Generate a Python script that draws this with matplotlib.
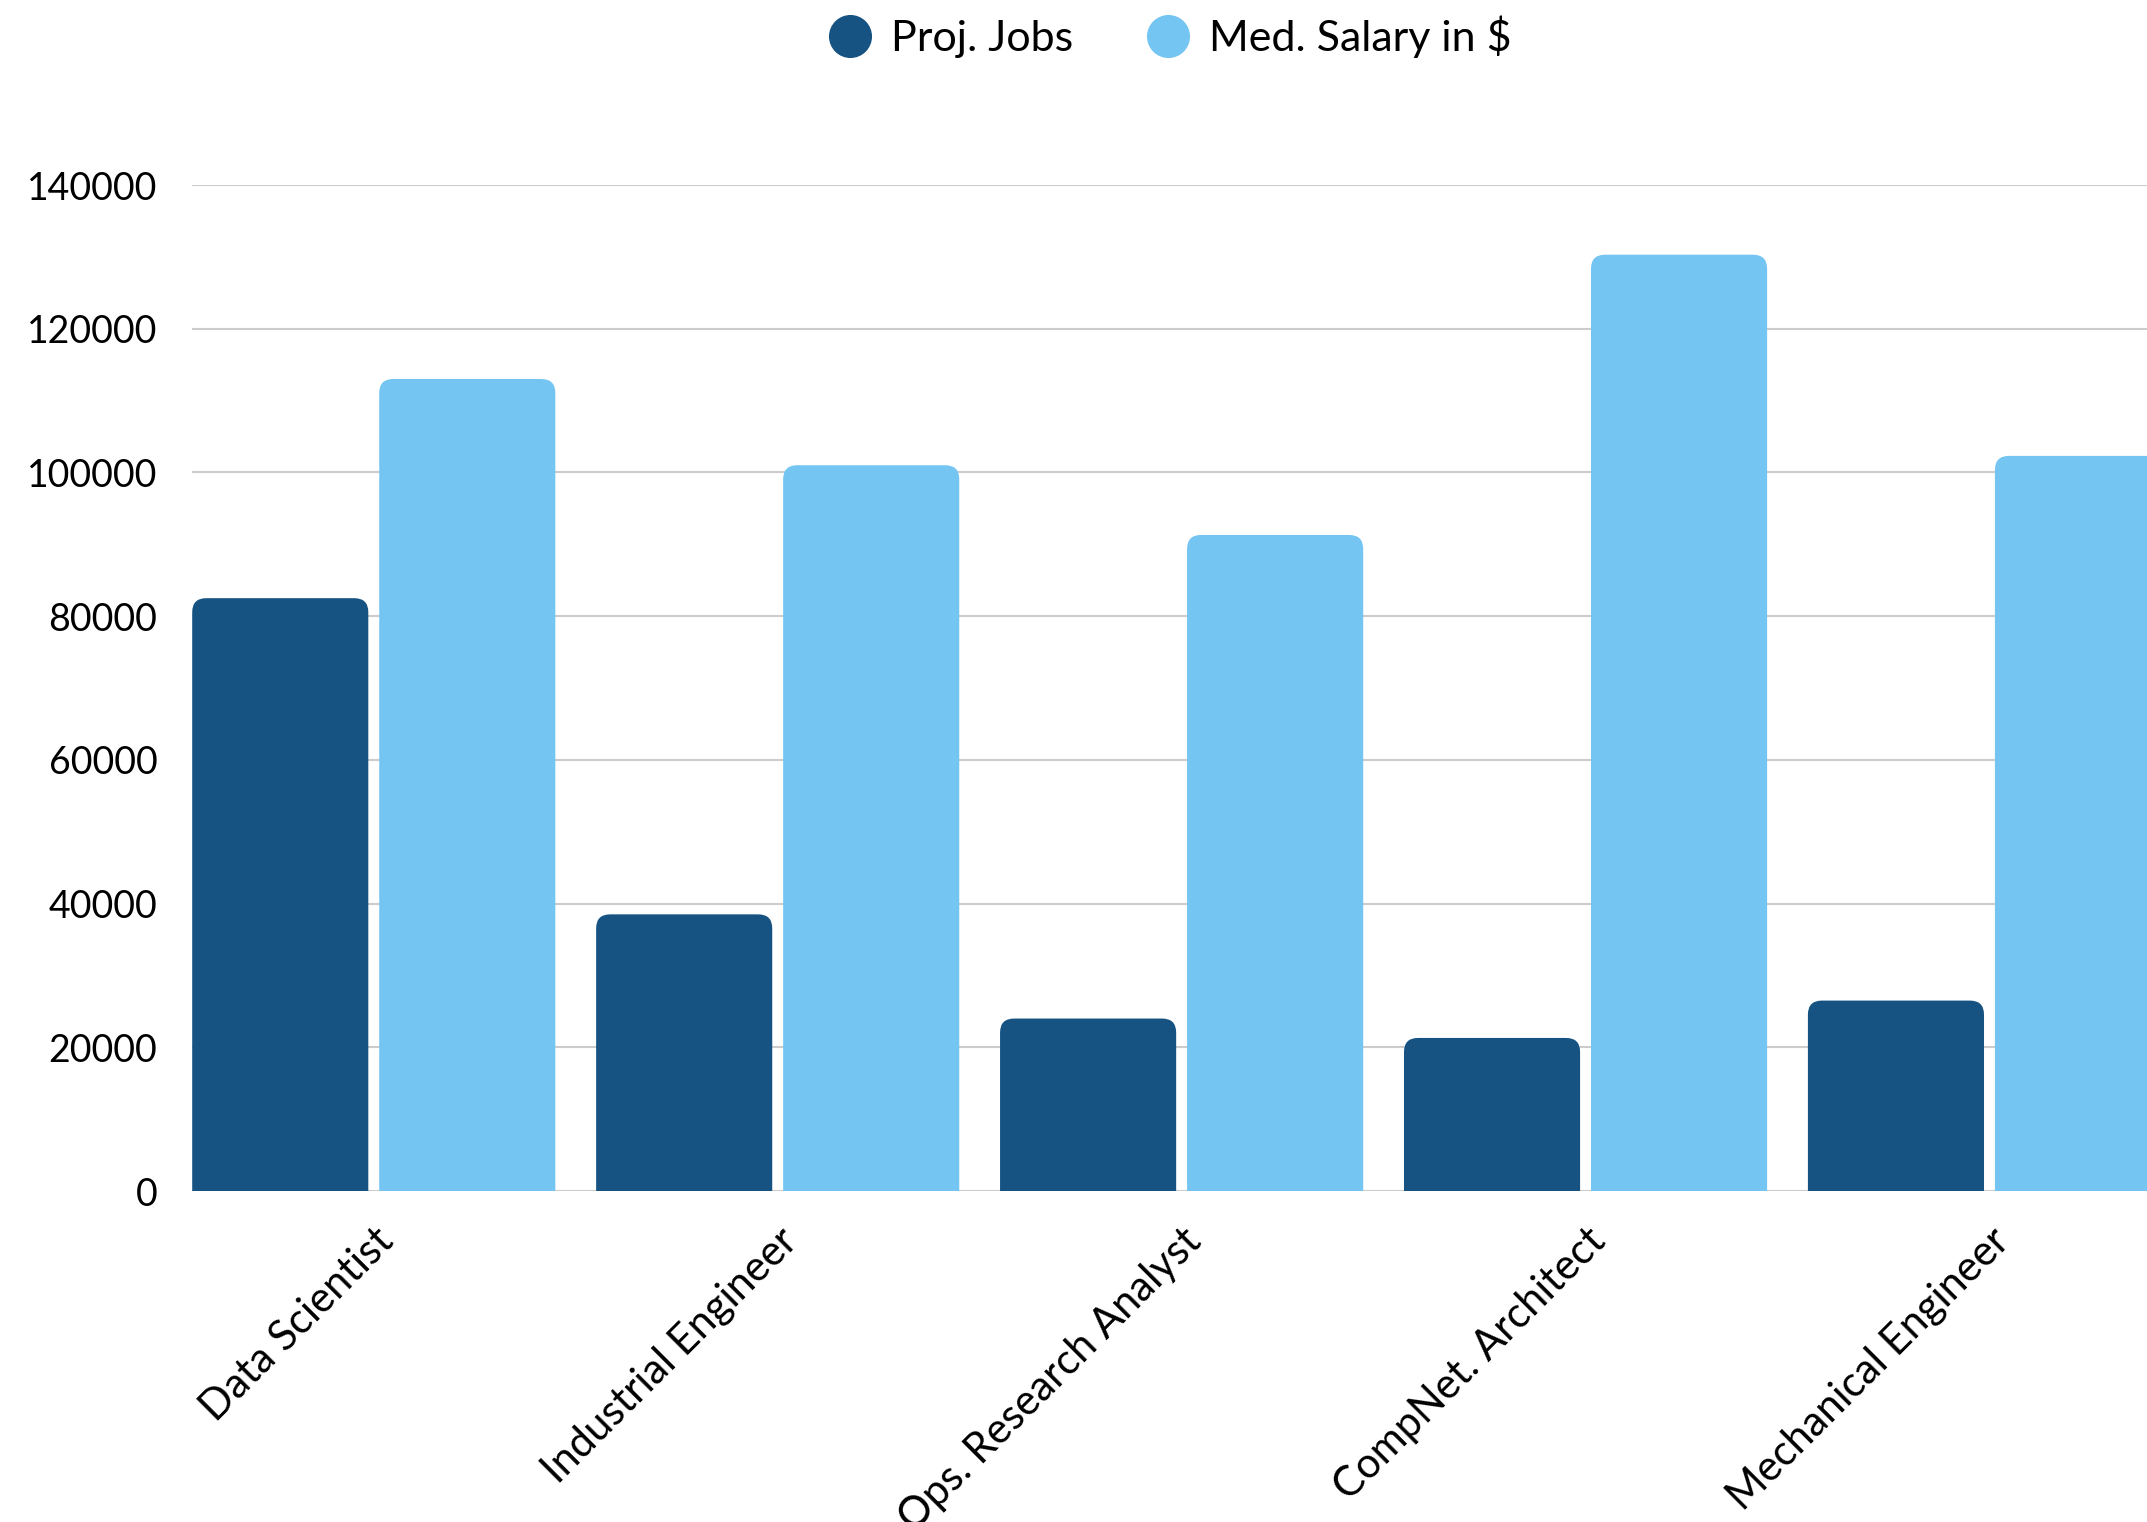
import matplotlib
matplotlib.use("Agg")
from matplotlib import pyplot as plt
from matplotlib.patches import FancyBboxPatch
from matplotlib.lines import Line2D
import numpy as np

categories = ["Data Scientist", "Industrial Engineer", "Ops. Research Analyst",
              "CompNet. Architect", "Mechanical Engineer"]
proj_jobs = [82500, 38500, 24000, 21300, 26500]
med_salary = [113000, 101000, 91300, 130300, 102300]
series_names = ["Proj. Jobs", "Med. Salary in $"]
yticks = [0, 20000, 40000, 60000, 80000, 100000, 120000, 140000]

dark = "#165382"
light = "#74C5F1"

plt.rcParams['font.family'] = ['Lato', 'DejaVu Sans']

W, H = 2147, 1522
fig = plt.figure(figsize=(W / 100, H / 100), dpi=100)
left, bottom, top = 192, 1191, 185
ax = fig.add_axes([left / W, 1 - bottom / H, 1 - left / W, (bottom - top) / H])

x = np.arange(len(categories))
width = 0.436
off = width / 2 + 0.0135
b1 = ax.bar(x - off, proj_jobs, width, color=dark, zorder=3)
b2 = ax.bar(x + off, med_salary, width, color=light, zorder=3)

ax.set_xlim(-0.45, 4.39)
ax.set_ylim(0, 140000)

# swap plain bars for ones with rounded top corners
px_per_x = (W - left) / (4.39 + 0.45)
px_per_y = (bottom - top) / 140000
aspect = px_per_x / px_per_y
r = 14 / px_per_x
for bars in (b1, b2):
    for rect in bars:
        rect.set_visible(False)
        extra = 40 / px_per_y
        p = FancyBboxPatch((rect.get_x(), -extra), rect.get_width(), rect.get_height() + extra,
                           boxstyle=f"round,pad=0,rounding_size={r}",
                           mutation_aspect=aspect, facecolor=rect.get_facecolor(),
                           edgecolor="none", zorder=3)
        ax.add_patch(p)

ax.set_yticks(yticks)
ax.set_yticklabels([str(v) for v in yticks])
ax.set_xticks(x)
ax.set_xticklabels(categories, rotation=45, ha="right", rotation_mode="anchor")
ax.tick_params(axis="y", length=0, pad=25, labelsize=27, colors="black")
ax.tick_params(axis="x", length=0, pad=22, labelsize=30, colors="black")
ax.grid(axis="y", color="#cccccc", linewidth=1.5, zorder=0)
ax.set_axisbelow(True)
for s in ax.spines.values():
    s.set_visible(False)

handles = [Line2D([], [], marker="o", linestyle="none", markersize=31,
                  markerfacecolor=c, markeredgecolor="none") for c in (dark, light)]
fig.legend(handles, series_names, loc="center", bbox_to_anchor=(0.545, 0.976),
           ncol=2, frameon=False, fontsize=31, handlelength=1.0,
           handletextpad=0.45, columnspacing=1.7)

fig.savefig("out.png", dpi=100)
